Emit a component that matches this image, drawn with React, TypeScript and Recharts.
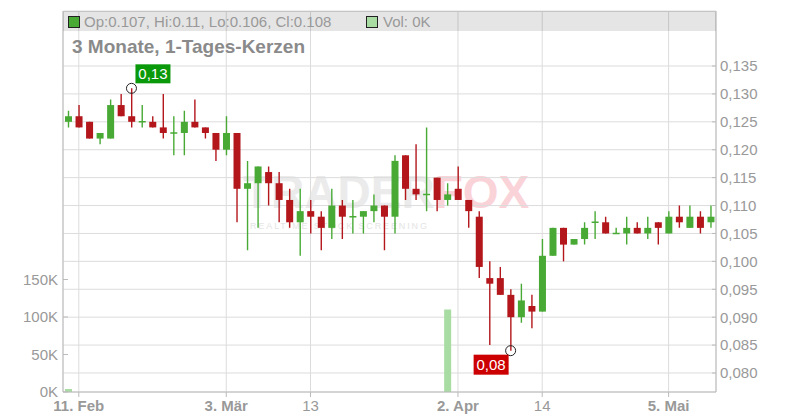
import { Bar, CartesianGrid, ComposedChart, ReferenceDot, XAxis, YAxis } from 'recharts';

// Trading days (Frankfurt calendar, Feb–May 2025)
const dates = [
  '2025-02-10', '2025-02-11', '2025-02-12', '2025-02-13', '2025-02-14',
  '2025-02-17', '2025-02-18', '2025-02-19', '2025-02-20', '2025-02-21',
  '2025-02-24', '2025-02-25', '2025-02-26', '2025-02-27', '2025-02-28',
  '2025-03-03', '2025-03-04', '2025-03-05', '2025-03-06', '2025-03-07',
  '2025-03-10', '2025-03-11', '2025-03-12', '2025-03-13', '2025-03-14',
  '2025-03-17', '2025-03-18', '2025-03-19', '2025-03-20', '2025-03-21',
  '2025-03-24', '2025-03-25', '2025-03-26', '2025-03-27', '2025-03-28',
  '2025-03-31', '2025-04-01', '2025-04-02', '2025-04-03', '2025-04-04',
  '2025-04-07', '2025-04-08', '2025-04-09', '2025-04-10', '2025-04-11',
  '2025-04-14', '2025-04-15', '2025-04-16', '2025-04-17', '2025-04-22',
  '2025-04-23', '2025-04-24', '2025-04-25', '2025-04-28', '2025-04-29',
  '2025-04-30', '2025-05-02', '2025-05-05', '2025-05-06', '2025-05-07',
  '2025-05-08', '2025-05-09',
];

const opens = [
  0.125, 0.126, 0.125, 0.122, 0.122, 0.128, 0.126, 0.125, 0.125, 0.124,
  0.123, 0.123, 0.125, 0.124, 0.123, 0.12, 0.123, 0.113, 0.114, 0.116,
  0.114, 0.111, 0.107, 0.109, 0.108, 0.106, 0.11, 0.108, 0.108, 0.109,
  0.11, 0.108, 0.119, 0.113, 0.112, 0.115, 0.111, 0.113, 0.111, 0.108,
  0.097, 0.097, 0.094, 0.09, 0.092, 0.091, 0.101, 0.106, 0.103, 0.104,
  0.107, 0.107, 0.105, 0.105, 0.106, 0.105, 0.107, 0.105, 0.108, 0.106,
  0.108, 0.107,
];
const highs = [
  0.127, 0.128, 0.125, 0.123, 0.129, 0.13, 0.131, 0.128, 0.126, 0.13,
  0.126, 0.127, 0.129, 0.124, 0.123, 0.126, 0.123, 0.118, 0.117, 0.117,
  0.116, 0.113, 0.113, 0.111, 0.109, 0.113, 0.111, 0.111, 0.109, 0.112,
  0.11, 0.119, 0.119, 0.121, 0.124, 0.115, 0.114, 0.117, 0.111, 0.109,
  0.1, 0.099, 0.095, 0.096, 0.094, 0.104, 0.106, 0.106, 0.104, 0.107,
  0.109, 0.108, 0.106, 0.108, 0.107, 0.108, 0.107, 0.109, 0.11, 0.11,
  0.109, 0.11,
];
const lows = [
  0.124, 0.124, 0.122, 0.121, 0.122, 0.126, 0.124, 0.124, 0.124, 0.122,
  0.119, 0.119, 0.124, 0.122, 0.118, 0.119, 0.107, 0.102, 0.106, 0.11,
  0.107, 0.106, 0.101, 0.105, 0.102, 0.104, 0.104, 0.105, 0.105, 0.107,
  0.102, 0.105, 0.111, 0.111, 0.109, 0.109, 0.11, 0.111, 0.106, 0.097,
  0.085, 0.094, 0.084, 0.089, 0.088, 0.091, 0.101, 0.1, 0.103, 0.103,
  0.104, 0.105, 0.105, 0.103, 0.105, 0.104, 0.103, 0.105, 0.106, 0.106,
  0.105, 0.106,
];
const closes = [
  0.126, 0.124, 0.122, 0.123, 0.128, 0.126, 0.125, 0.125, 0.124, 0.123,
  0.123, 0.125, 0.124, 0.123, 0.12, 0.123, 0.113, 0.114, 0.117, 0.114,
  0.111, 0.107, 0.109, 0.108, 0.106, 0.11, 0.108, 0.108, 0.109, 0.11,
  0.108, 0.118, 0.113, 0.112, 0.112, 0.111, 0.112, 0.111, 0.109, 0.099,
  0.096, 0.094, 0.09, 0.093, 0.091, 0.101, 0.106, 0.103, 0.104, 0.106,
  0.107, 0.105, 0.105, 0.106, 0.105, 0.106, 0.106, 0.108, 0.107, 0.108,
  0.106, 0.108,
];
const volumes = [
  4000, 0, 0, 0, 0, 0, 0, 0, 0, 0,
  0, 0, 0, 0, 0, 0, 0, 0, 0, 0,
  0, 0, 0, 0, 0, 0, 0, 0, 0, 0,
  0, 0, 0, 0, 0, 0, 110000, 0, 0, 0,
  0, 0, 0, 0, 0, 0, 0, 0, 0, 0,
  0, 0, 0, 0, 0, 0, 0, 0, 0, 0,
  0, 0,
];

const dateTicks = ['2025-02-11', '2025-03-03', '2025-03-13', '2025-04-02', '2025-04-14', '2025-05-05'];
const dateTickLabels = ['11. Feb', '3. Mär', '13', '2. Apr', '14', '5. Mai'];
const priceTicks = [0.08, 0.085, 0.09, 0.095, 0.1, 0.105, 0.11, 0.115, 0.12, 0.125, 0.13, 0.135];
const volumeTicks = [0, 50000, 100000, 150000];

const GREEN = '#48aa35';
const RED = '#b3161b';
const VOL_GREEN = '#a8dca2';
const AXIS = '#bbbbbb';
const TEXT = '#999999';

const data = dates.map((date, i) => ({
  date,
  open: opens[i],
  high: highs[i],
  low: lows[i],
  close: closes[i],
  vol: volumes[i],
}));

const highIdx = highs.indexOf(Math.max(...highs));
const lowIdx = lows.indexOf(Math.min(...lows));

function Candle(props: any) {
  const { x, y, width, height, payload } = props;
  const top = Math.min(y, y + height);
  const h = Math.abs(height);
  const range = payload.high - payload.low || 1;
  const toY = (p: number) => top + ((payload.high - p) / range) * h;
  const color = payload.close >= payload.open ? GREEN : RED;
  const cx = x + width / 2;
  const bodyTop = toY(Math.max(payload.open, payload.close));
  const bodyBottom = toY(Math.min(payload.open, payload.close));
  return (
    <g>
      <line x1={cx} x2={cx} y1={top} y2={top + h} stroke={color} strokeWidth={1.4} />
      {bodyBottom - bodyTop < 1 ? (
        <line x1={cx - 3.5} x2={cx + 3.5} y1={bodyTop} y2={bodyTop} stroke={color} strokeWidth={1.5} />
      ) : (
        <rect x={cx - 3.5} y={bodyTop} width={7} height={bodyBottom - bodyTop} fill={color} />
      )}
    </g>
  );
}

function HighMarker({ cx, cy }: any) {
  return (
    <g>
      <circle cx={cx} cy={cy} r={5} fill="none" stroke="#222" strokeWidth={1} />
      <rect x={cx + 4} y={cy - 24} width={35} height={19} fill="#0a990a" />
      <text x={cx + 21.5} y={cy - 9} textAnchor="middle" fill="#fff" fontSize={15}>
        {highs[highIdx].toFixed(2).replace('.', ',')}
      </text>
    </g>
  );
}

function LowMarker({ cx, cy }: any) {
  return (
    <g>
      <circle cx={cx} cy={cy} r={5} fill="none" stroke="#222" strokeWidth={1} />
      <rect x={cx - 37} y={cy + 4} width={35} height={20} fill="#cc0000" />
      <text x={cx - 19.5} y={cy + 19} textAnchor="middle" fill="#fff" fontSize={15}>
        {lows[lowIdx].toFixed(2).replace('.', ',')}
      </text>
    </g>
  );
}

function DateTick({ x, y, payload }: any) {
  const i = dateTicks.indexOf(payload.value);
  const label = i >= 0 ? dateTickLabels[i] : payload.value;
  return (
    <text x={x} y={y} dy={12} textAnchor="middle" fill={TEXT} fontSize={15} fontWeight={label.includes('.') ? 'bold' : 'normal'}>
      {label}
    </text>
  );
}

export default function App() {
  const last = data[data.length - 1];
  return (
    <div
      style={{
        position: 'absolute',
        left: 0,
        top: 0,
        width: 800,
        height: 420,
        background: '#fff',
        fontFamily: '"Liberation Sans", Arial, sans-serif',
      }}
    >
      {/* watermark */}
      <svg width={800} height={420} style={{ position: 'absolute', left: 0, top: 0 }}>
        <text x={243} y={208} fontSize={46} fontWeight="bold">
          <tspan fill="#ebebeb">TRADER</tspan>
          <tspan fill="#fad3d9">FOX</tspan>
        </text>
        <text x={250} y={229} fontSize={9} fill="#e4e4e4" textLength={177} lengthAdjust="spacing">
          REALTIME STOCK SCREENING
        </text>
      </svg>

      <div style={{ position: 'absolute', left: 0, top: 0 }}>
        <ComposedChart
          width={800}
          height={420}
          data={data}
          margin={{ top: 11, right: 0, bottom: 0, left: 0 }}
          barCategoryGap={0}
          barGap={0}
        >
          <CartesianGrid xAxisId="main" yAxisId="price" stroke="#dcdcdc" />
          <XAxis
            xAxisId="main"
            dataKey="date"
            ticks={dateTicks}
            interval={0}
            height={28}
            stroke={AXIS}
            tickSize={5}
            tick={<DateTick />}
          />
          <XAxis xAxisId="vol" dataKey="date" hide />
          <YAxis
            yAxisId="vol"
            orientation="left"
            width={63}
            domain={[0, 508000]}
            ticks={volumeTicks}
            interval={0}
            allowDataOverflow
            stroke={AXIS}
            tickSize={-5}
            tickMargin={10}
            tick={{ fill: TEXT, fontSize: 15 }}
            tickFormatter={(v: number) => `${v / 1000}K`}
          />
          <YAxis
            yAxisId="price"
            orientation="right"
            width={84}
            domain={[0.076596, 0.144853]}
            ticks={priceTicks}
            interval={0}
            allowDataOverflow
            stroke={AXIS}
            tickSize={-4}
            tickMargin={8}
            tick={{ fill: TEXT, fontSize: 15, textAnchor: 'start' }}
            tickFormatter={(v: number) => v.toFixed(3).replace('.', ',')}
          />
          <Bar xAxisId="vol" yAxisId="vol" dataKey="vol" barSize={7} fill={VOL_GREEN} isAnimationActive={false} />
          <Bar
            xAxisId="main"
            yAxisId="price"
            dataKey={(d: any) => [d.low, d.high]}
            shape={<Candle />}
            isAnimationActive={false}
          />
          <ReferenceDot
            xAxisId="main"
            yAxisId="price"
            x={dates[highIdx]}
            y={highs[highIdx]}
            shape={(p: any) => <HighMarker {...p} />}
          />
          <ReferenceDot
            xAxisId="main"
            yAxisId="price"
            x={dates[lowIdx]}
            y={lows[lowIdx]}
            shape={(p: any) => <LowMarker {...p} />}
          />
        </ComposedChart>
      </div>

      {/* header strip */}
      <div
        style={{
          position: 'absolute',
          left: 63,
          top: 11,
          width: 653,
          height: 19,
          background: 'rgba(0,0,0,0.1)',
          borderTop: '1px solid #c4c4c4',
          fontSize: 15,
          color: TEXT,
          lineHeight: '19px',
          whiteSpace: 'nowrap',
        }}
      >
        <span
          style={{
            position: 'absolute',
            left: 5,
            top: 4,
            width: 10,
            height: 10,
            background: GREEN,
            border: '1px solid #222',
          }}
        />
        <span style={{ position: 'absolute', left: 21, top: 0 }}>
          {`Op:${last.open}, Hi:${last.high}, Lo:${last.low}, Cl:${last.close}`}
        </span>
        <span
          style={{
            position: 'absolute',
            left: 303,
            top: 4,
            width: 10,
            height: 10,
            background: VOL_GREEN,
            border: '1px solid #222',
          }}
        />
        <span style={{ position: 'absolute', left: 320, top: 0 }}>{`Vol: ${last.vol / 1000}K`}</span>
      </div>

      <div
        style={{
          position: 'absolute',
          left: 72,
          top: 36,
          fontSize: 19,
          fontWeight: 'bold',
          color: '#8a8a8a',
          whiteSpace: 'nowrap',
        }}
      >
        3 Monate, 1-Tages-Kerzen
      </div>
    </div>
  );
}
